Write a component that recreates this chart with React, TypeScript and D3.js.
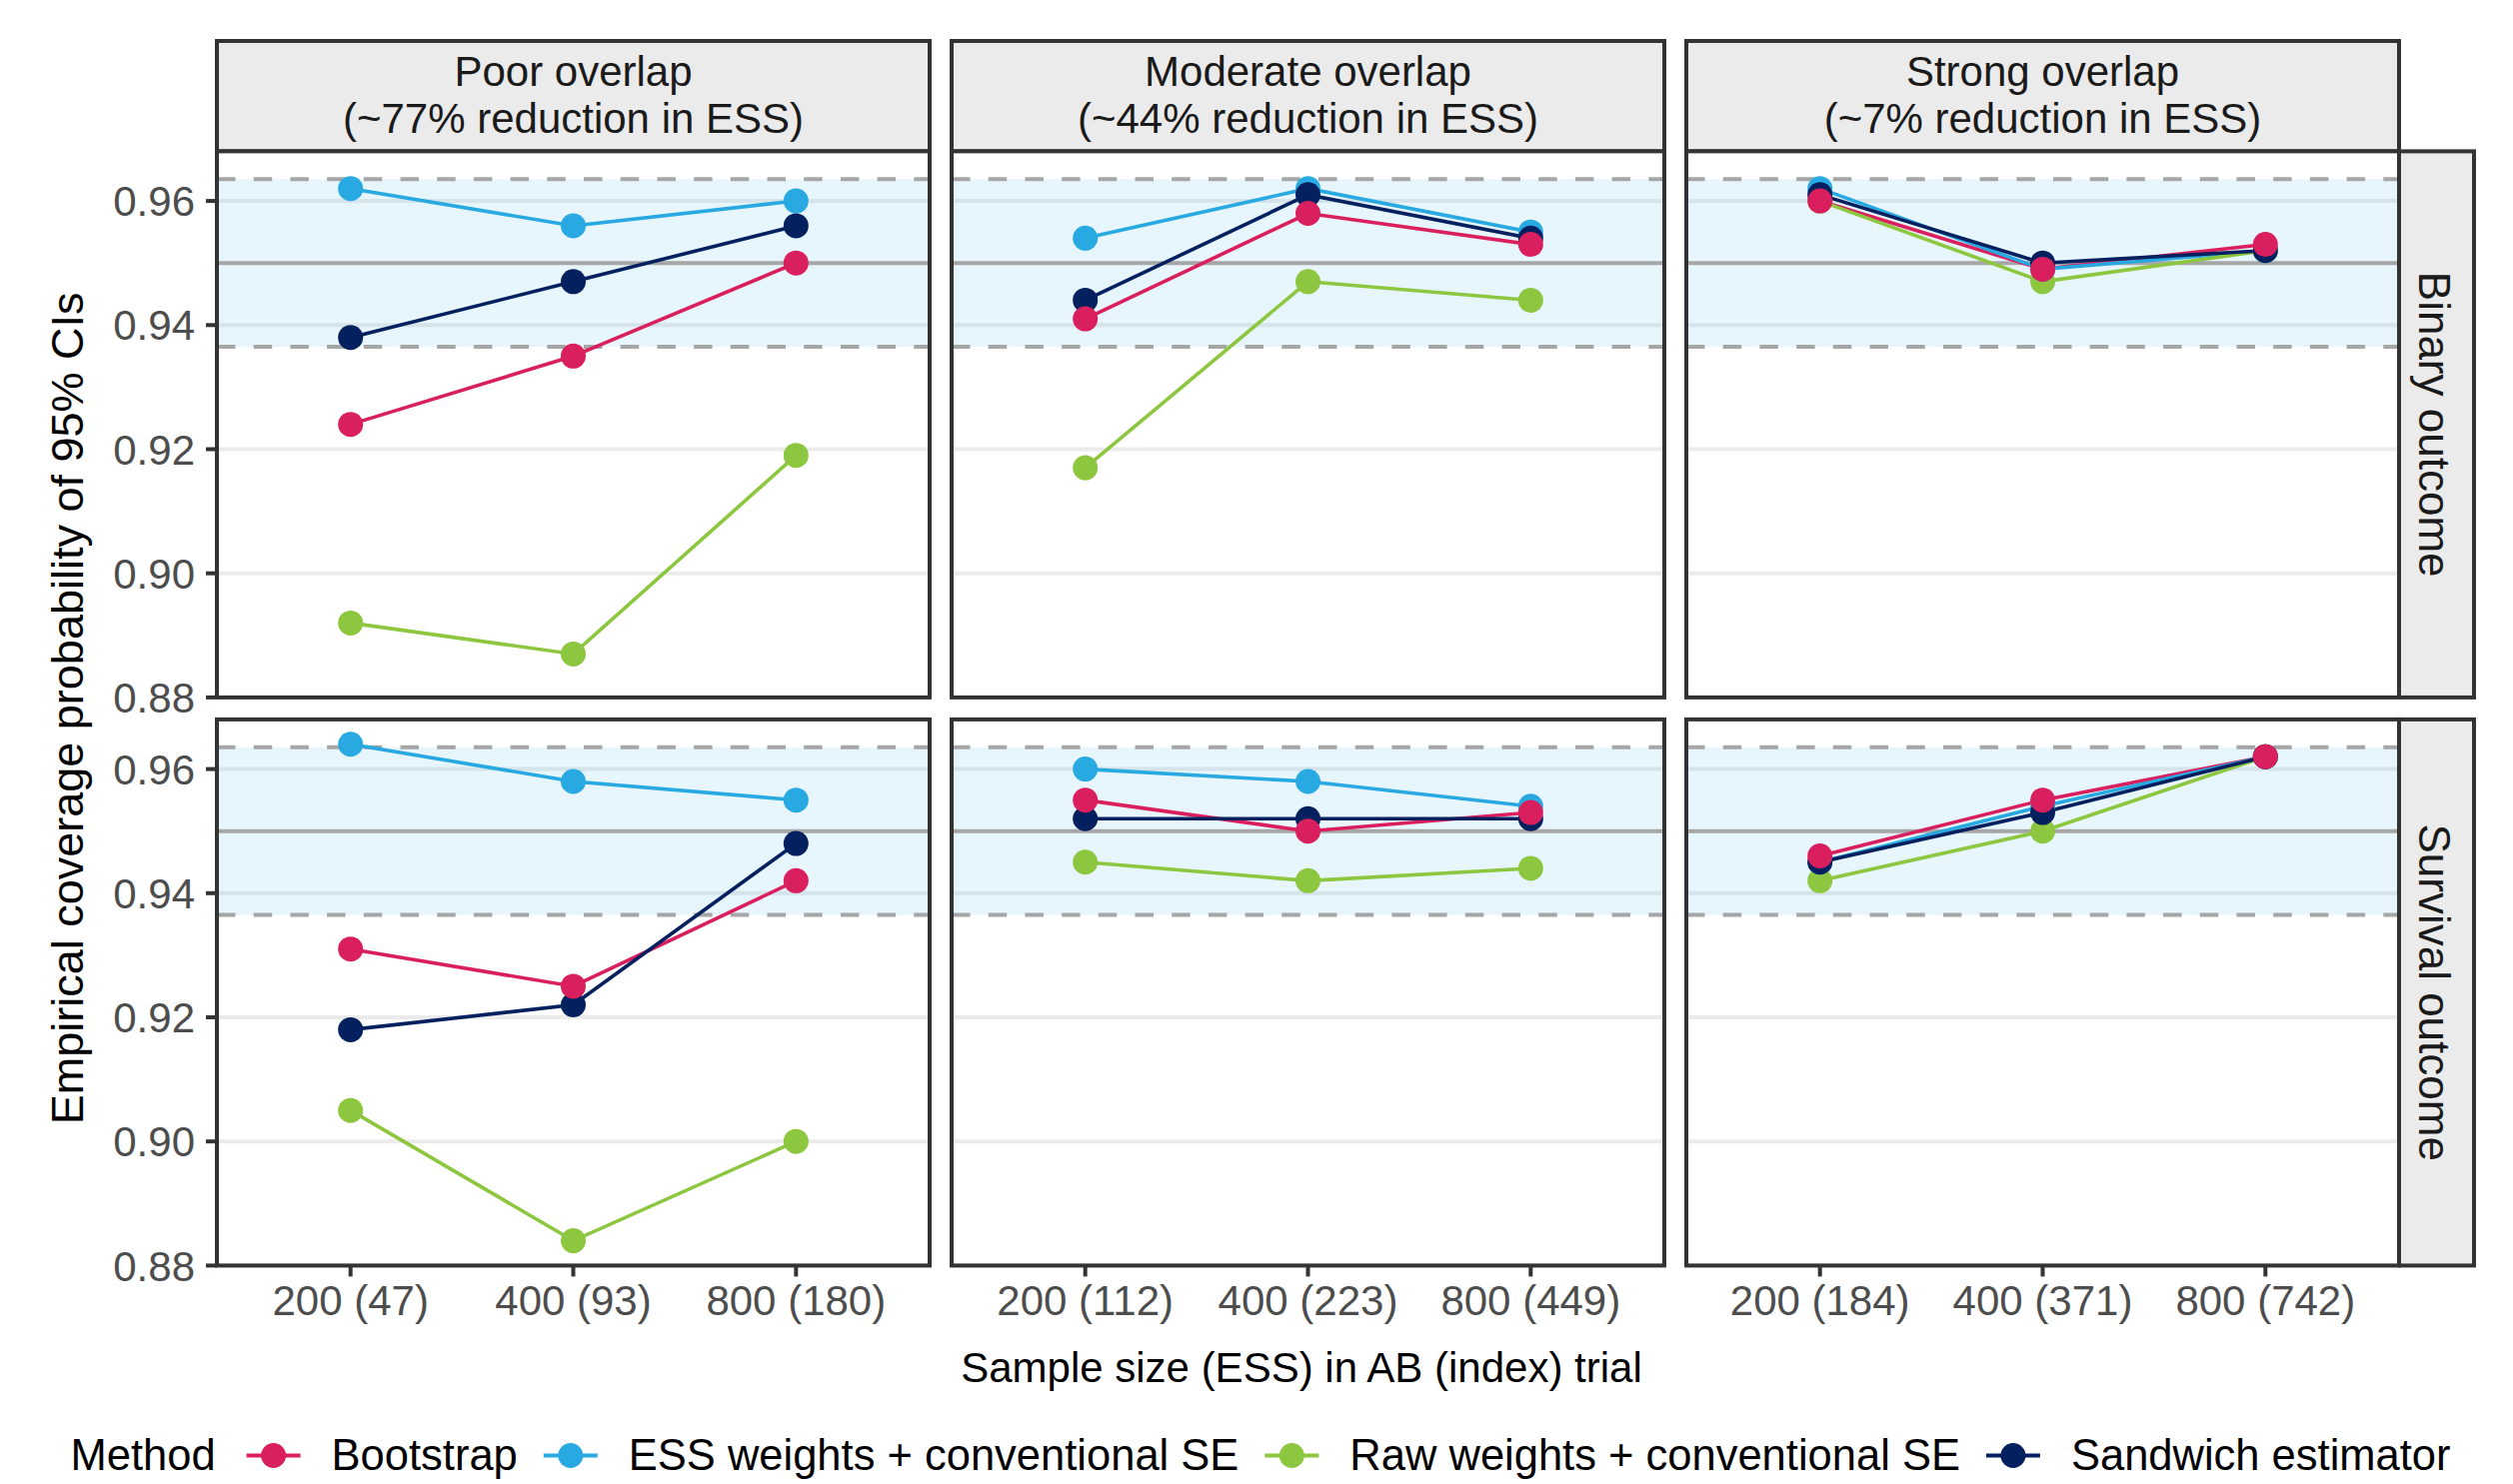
import React, { useEffect, useRef } from 'react';
import * as d3 from 'd3';

const methods = [
  'Bootstrap',
  'ESS weights + conventional SE',
  'Raw weights + conventional SE',
  'Sandwich estimator',
];
const methodColors = ['#DA1F5E', '#29A9E1', '#8DC63F', '#04205E'];

const overlapTitles = [
  ['Poor overlap', '(~77% reduction in ESS)'],
  ['Moderate overlap', '(~44% reduction in ESS)'],
  ['Strong overlap', '(~7% reduction in ESS)'],
];
const outcomes = ['Binary outcome', 'Survival outcome'];

// x tick labels: sample size (ESS) for each overlap scenario
const xLabels = [
  ['200 (47)', '400 (93)', '800 (180)'],
  ['200 (112)', '400 (223)', '800 (449)'],
  ['200 (184)', '400 (371)', '800 (742)'],
];
const yTicks = [0.88, 0.9, 0.92, 0.94, 0.96];

const nominal = 0.95;
const mcLower = 0.9365;
const mcUpper = 0.9635;

// coverage values, one row per overlap scenario (poor, moderate, strong)
const binaryBootstrap = [[0.924, 0.935, 0.95], [0.941, 0.958, 0.953], [0.96, 0.949, 0.953]];
const binaryEss = [[0.962, 0.956, 0.96], [0.954, 0.962, 0.955], [0.962, 0.949, 0.952]];
const binaryRaw = [[0.892, 0.887, 0.919], [0.917, 0.947, 0.944], [0.96, 0.947, 0.952]];
const binarySandwich = [[0.938, 0.947, 0.956], [0.944, 0.961, 0.954], [0.961, 0.95, 0.952]];

const survivalBootstrap = [[0.931, 0.925, 0.942], [0.955, 0.95, 0.953], [0.946, 0.955, 0.962]];
const survivalEss = [[0.964, 0.958, 0.955], [0.96, 0.958, 0.954], [0.945, 0.954, 0.962]];
const survivalRaw = [[0.905, 0.884, 0.9], [0.945, 0.942, 0.944], [0.942, 0.95, 0.962]];
const survivalSandwich = [[0.918, 0.922, 0.948], [0.952, 0.952, 0.952], [0.945, 0.953, 0.962]];

export default function App() {
  const svgRef = useRef<SVGSVGElement>(null);

  useEffect(() => {
    const width = 2514;
    const height = 1485;
    const font = '"Liberation Sans", Arial, Helvetica, sans-serif';
    const fs = 42;

    const svg = d3.select(svgRef.current);
    svg.selectAll('*').remove();
    svg.attr('width', width).attr('height', height).attr('font-family', font);

    svg.append('rect').attr('width', width).attr('height', height).attr('fill', '#fff');

    const coverage = [
      [binaryBootstrap, binaryEss, binaryRaw, binarySandwich],
      [survivalBootstrap, survivalEss, survivalRaw, survivalSandwich],
    ];
    const lineOrder = [0, 1, 2, 3];
    const pointOrder = [2, 1, 3, 0];

    // y range with ggplot's 5% expansion
    const all = coverage.flat(3) as number[];
    const [lo, hi] = d3.extent(all) as [number, number];
    const pad = (hi - lo) * 0.05;

    const left = 217;
    const panelW = 713;
    const gapX = 22;
    const top = 151.4;
    const panelH = 546.5;
    const gapY = 22;
    const stripTop = 41;
    const stripRightW = 75;
    const border = '#333333';

    const colX = (c: number) => left + c * (panelW + gapX);
    const rowY = (r: number) => top + r * (panelH + gapY);

    // top strips
    overlapTitles.forEach((lines, c) => {
      const g = svg.append('g');
      g.append('rect')
        .attr('x', colX(c)).attr('y', stripTop)
        .attr('width', panelW).attr('height', top - stripTop)
        .attr('fill', '#EBEBEB').attr('stroke', border).attr('stroke-width', 4);
      lines.forEach((t, i) => {
        g.append('text')
          .attr('x', colX(c) + panelW / 2).attr('y', 86 + i * 47)
          .attr('text-anchor', 'middle').attr('font-size', fs).attr('fill', '#1A1A1A')
          .text(t);
      });
    });

    // right strips
    outcomes.forEach((t, r) => {
      const x0 = colX(2) + panelW;
      svg.append('rect')
        .attr('x', x0).attr('y', rowY(r))
        .attr('width', stripRightW).attr('height', panelH)
        .attr('fill', '#EBEBEB').attr('stroke', border).attr('stroke-width', 4);
      const cy = rowY(r) + panelH / 2;
      svg.append('text')
        .attr('transform', `translate(${x0 + 20},${cy}) rotate(90)`)
        .attr('text-anchor', 'middle').attr('font-size', 44).attr('fill', '#1A1A1A')
        .text(t);
    });

    outcomes.forEach((_, r) => {
      const y = d3.scaleLinear().domain([lo - pad, hi + pad]).range([rowY(r) + panelH, rowY(r)]);

      overlapTitles.forEach((__, c) => {
        const x = d3.scalePoint<number>().domain([0, 1, 2]).range([colX(c), colX(c) + panelW]).padding(0.6);
        const g = svg.append('g');
        const x0 = colX(c);
        const x1 = colX(c) + panelW;

        g.append('rect').attr('x', x0).attr('y', rowY(r)).attr('width', panelW).attr('height', panelH).attr('fill', '#fff');

        g.selectAll('line.grid').data(yTicks).enter().append('line')
          .attr('x1', x0).attr('x2', x1)
          .attr('y1', d => y(d)).attr('y2', d => y(d))
          .attr('stroke', '#EBEBEB').attr('stroke-width', 4);

        g.append('rect')
          .attr('x', x0).attr('width', panelW)
          .attr('y', y(mcUpper)).attr('height', y(mcLower) - y(mcUpper))
          .attr('fill', '#29ABE2').attr('fill-opacity', 0.115);

        [mcUpper, mcLower].forEach(v => {
          g.append('line')
            .attr('x1', x0).attr('x2', x1).attr('y1', y(v)).attr('y2', y(v))
            .attr('stroke', '#A6A6A6').attr('stroke-width', 4).attr('stroke-dasharray', '18.5 18.2');
        });
        g.append('line')
          .attr('x1', x0).attr('x2', x1).attr('y1', y(nominal)).attr('y2', y(nominal))
          .attr('stroke', '#A6A6A6').attr('stroke-width', 4);

        const line = d3.line<number>().x((_d, i) => x(i) as number).y(d => y(d));
        lineOrder.forEach(m => {
          g.append('path')
            .datum(coverage[r][m][c])
            .attr('d', line)
            .attr('fill', 'none')
            .attr('stroke', methodColors[m])
            .attr('stroke-width', 3.6);
        });
        pointOrder.forEach(m => {
          g.selectAll(null).data(coverage[r][m][c]).enter().append('circle')
            .attr('cx', (_d, i) => x(i) as number)
            .attr('cy', d => y(d))
            .attr('r', 12.5)
            .attr('fill', methodColors[m]);
        });

        g.append('rect').attr('x', x0).attr('y', rowY(r)).attr('width', panelW).attr('height', panelH)
          .attr('fill', 'none').attr('stroke', border).attr('stroke-width', 4);

        // y axis on first column
        if (c === 0) {
          yTicks.forEach(t => {
            g.append('line').attr('x1', x0 - 11).attr('x2', x0).attr('y1', y(t)).attr('y2', y(t))
              .attr('stroke', border).attr('stroke-width', 4);
            g.append('text').attr('x', x0 - 22).attr('y', y(t)).attr('dy', '0.36em')
              .attr('text-anchor', 'end').attr('font-size', fs).attr('fill', '#4D4D4D')
              .text(d3.format('.2f')(t));
          });
        }
        // x axis on bottom row
        if (r === 1) {
          const yb = rowY(r) + panelH;
          [0, 1, 2].forEach(i => {
            g.append('line').attr('x1', x(i) as number).attr('x2', x(i) as number)
              .attr('y1', yb).attr('y2', yb + 11).attr('stroke', border).attr('stroke-width', 4);
            g.append('text').attr('x', x(i) as number).attr('y', 1316)
              .attr('text-anchor', 'middle').attr('font-size', fs).attr('fill', '#4D4D4D')
              .text(xLabels[c][i]);
          });
        }
      });
    });

    // axis titles
    svg.append('text')
      .attr('x', 1302).attr('y', 1383)
      .attr('text-anchor', 'middle').attr('font-size', fs).attr('fill', '#000')
      .text('Sample size (ESS) in AB (index) trial');
    svg.append('text')
      .attr('transform', `translate(83,${(top + rowY(1) + panelH) / 2}) rotate(-90)`)
      .attr('text-anchor', 'middle').attr('font-size', 45).attr('fill', '#000')
      .text('Empirical coverage probability of 95% CIs');

    // legend
    const lfs = 43.5;
    const lg = svg.append('g');
    const title = lg.append('text').attr('y', 1471).attr('font-size', lfs).text('Method');
    const titleW = (title.node() as SVGTextElement).getComputedTextLength();
    const keyW = 54;
    const labels = methods.map(mth =>
      lg.append('text').attr('y', 1471).attr('font-size', lfs).text(mth)
    );
    const labelW = labels.map(l => (l.node() as SVGTextElement).getComputedTextLength());
    const total = titleW + 31 + d3.sum(labelW) + methods.length * (keyW + 31) + (methods.length - 1) * 26;
    let cx = 1261 - total / 2;
    title.attr('x', cx);
    cx += titleW + 31;
    methods.forEach((_m, i) => {
      lg.append('line').attr('x1', cx).attr('x2', cx + keyW).attr('y1', 1456.5).attr('y2', 1456.5)
        .attr('stroke', methodColors[i]).attr('stroke-width', 4);
      lg.append('circle').attr('cx', cx + keyW / 2).attr('cy', 1456.5).attr('r', 12.5).attr('fill', methodColors[i]);
      cx += keyW + 31;
      labels[i].attr('x', cx);
      cx += labelW[i] + 26;
    });
  }, []);

  return <svg ref={svgRef} style={{ position: 'absolute', left: 0, top: 0, display: 'block' }} />;
}
